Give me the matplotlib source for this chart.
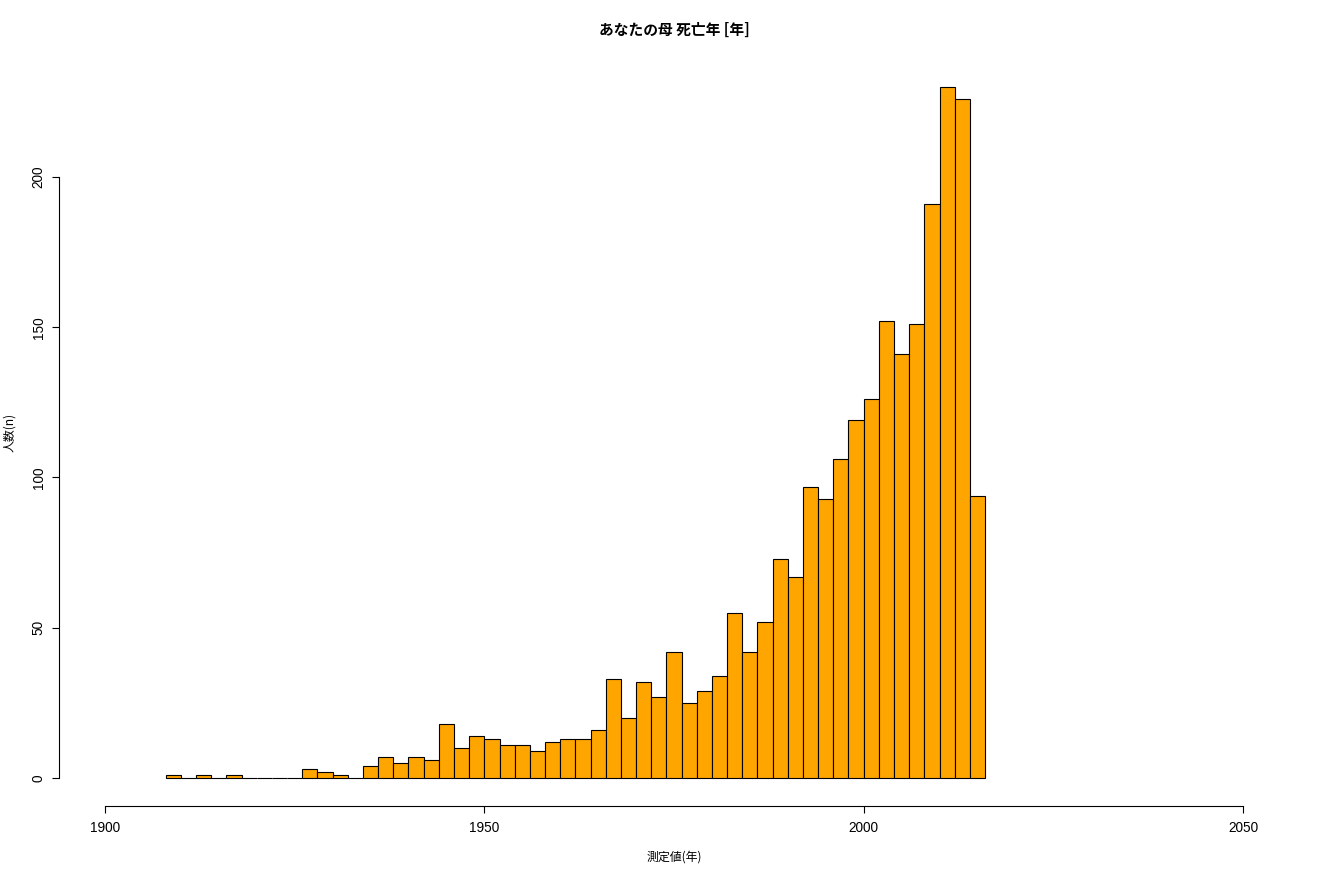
import numpy as np
import matplotlib
matplotlib.use("Agg")
import matplotlib.pyplot as plt

# ---- data ----
bin_width = 2
bin_first = 1908
counts = [1, 0, 1, 0, 1, 0, 0, 0, 0, 3,
          2, 1, 0, 4, 7, 5, 7, 6, 18, 10,
          14, 13, 11, 11, 9, 12, 13, 13, 16, 33,
          20, 32, 27, 42, 25, 29, 34, 55, 42, 52,
          73, 67, 97, 93, 106, 119, 126, 152, 141, 151,
          191, 230, 226, 94]
x_ticks = [1900, 1950, 2000, 2050]
y_ticks = [0, 50, 100, 150, 200]
title = "あなたの母 死亡年 [年]"
xlabel = "測定値(年)"
ylabel = "人数(n)"

bin_left = bin_first + bin_width * np.arange(len(counts))

W, H = 1320, 880
fig = plt.figure(figsize=(W / 100, H / 100), dpi=100)

# plot region in pixels
L, R, T, B = 59, 1290, 59, 806
ax = fig.add_axes([L / W, 1 - B / H, (R - L) / W, (B - T) / H])

pxy = 1138 / 150.0   # px per year
pyu = 601 / 200.0    # px per count
ax.set_xlim(1900 - (105 - L) / pxy, 2050 + (R - 1243) / pxy)
ax.set_ylim(-(B - 778) / pyu, (778 - T) / pyu)

ax.bar(bin_left, counts, width=bin_width, align="edge",
       color="#FFA500", edgecolor="black", linewidth=0.8)

num_font = ["Liberation Sans", "DejaVu Sans"]
jp_font = ["Noto Sans CJK JP", "DejaVu Sans"]

for s in ["top", "right"]:
    ax.spines[s].set_visible(False)
ax.spines["left"].set_bounds(y_ticks[0], y_ticks[-1])
ax.spines["bottom"].set_bounds(x_ticks[0], x_ticks[-1])
ax.spines["left"].set_linewidth(0.8)
ax.spines["bottom"].set_linewidth(0.8)

ax.set_xticks(x_ticks)
ax.set_yticks(y_ticks)
ax.set_xticklabels([str(v) for v in x_ticks], family=num_font, fontsize=9.8)
ax.set_yticklabels([str(v) for v in y_ticks], family=num_font, fontsize=9.8,
                   rotation=90, va="center")
ax.tick_params(axis="x", direction="out", length=5, width=0.8, pad=6)
ax.tick_params(axis="y", direction="out", length=5, width=0.8, pad=4.5)

fig.text(674 / W, 1 - 30 / H, title, ha="center", va="center",
         family=jp_font, fontsize=10.6, fontweight="bold")
fig.text(674 / W, 1 - 857 / H, xlabel, ha="center", va="center",
         family=jp_font, fontsize=8.6)
fig.text(10 / W, 1 - 432 / H, ylabel, ha="center", va="center",
         family=jp_font, fontsize=8.6, rotation=90)

fig.savefig("out.png", dpi=100)
